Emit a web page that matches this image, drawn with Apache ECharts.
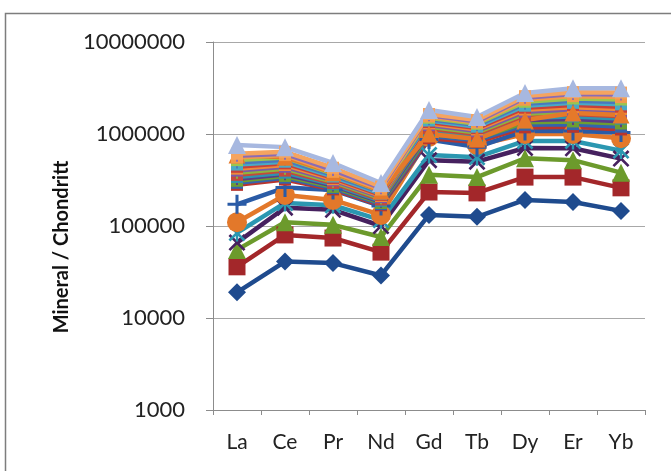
<!DOCTYPE html>
<html>
<head>
<meta charset="utf-8">
<script src="https://cdn.jsdelivr.net/npm/echarts@6/dist/echarts.min.js"></script>
<style>
  html, body { margin: 0; padding: 0; background: #ffffff; }
  #chart { width: 671px; height: 471px; }
</style>
</head>
<body>
<div id="chart"></div>
<script>
// REE elements along the x axis
const elements = ['La', 'Ce', 'Pr', 'Nd', 'Gd', 'Tb', 'Dy', 'Er', 'Yb'];
const yTickValues = [1000, 10000, 100000, 1000000, 10000000];

// Mineral / chondrite ratios, one array per analysis
const s01 = [19000, 41000, 39500, 29000, 132000, 126000, 192000, 182000, 146000];
const s02 = [36000, 80000, 74000, 52000, 234000, 229000, 340000, 340000, 260000];
const s03 = [55000, 110000, 103000, 76000, 360000, 340000, 545000, 520000, 380000];
const s04 = [66000, 158000, 150000, 100000, 520000, 500000, 705000, 700000, 540000];
const s05 = [84000, 178000, 168000, 116000, 590000, 560000, 840000, 840000, 660000];
const s06 = [110000, 217000, 192000, 132000, 930000, 760000, 1000000, 1000000, 900000];
const s07 = [172000, 262000, 246000, 165000, 870000, 720000, 1080000, 1080000, 1040000];
const s08 = [280000, 320000, 250000, 168000, 900000, 820000, 1180000, 1200000, 1120000];
const s09 = [295000, 335000, 258000, 173000, 950000, 855000, 1260000, 1280000, 1200000];
const s10 = [310000, 350000, 266000, 178000, 1000000, 890000, 1340000, 1370000, 1300000];
const s11 = [325000, 365000, 275000, 183000, 1050000, 925000, 1420000, 1460000, 1380000];
const s12 = [340000, 380000, 284000, 188000, 1100000, 960000, 1500000, 1550000, 1470000];
const s13 = [360000, 400000, 293000, 194000, 1150000, 1000000, 1580000, 1650000, 1560000];
const s14 = [380000, 420000, 303000, 200000, 1200000, 1040000, 1660000, 1750000, 1660000];
const s15 = [400000, 440000, 313000, 206000, 1250000, 1080000, 1750000, 1850000, 1760000];
const s16 = [420000, 460000, 323000, 212000, 1300000, 1120000, 1840000, 1950000, 1870000];
const s17 = [440000, 480000, 333000, 218000, 1350000, 1160000, 1930000, 2060000, 1980000];
const s18 = [465000, 500000, 345000, 225000, 1400000, 1200000, 2030000, 2180000, 2100000];
const s19 = [490000, 525000, 358000, 232000, 1450000, 1250000, 2130000, 2300000, 2230000];
const s20 = [520000, 555000, 372000, 240000, 1500000, 1290000, 2240000, 2430000, 2370000];
const s21 = [590000, 560000, 380000, 240000, 1000000, 880000, 1420000, 1690000, 1610000];
const s22 = [555000, 590000, 388000, 249000, 1550000, 1330000, 2360000, 2580000, 2520000];
const s23 = [580000, 610000, 405000, 258000, 1600000, 1370000, 2480000, 2720000, 2680000];
const s24 = [610000, 640000, 430000, 268000, 1650000, 1420000, 2580000, 2850000, 2820000];
const s25 = [760000, 720000, 484000, 293000, 1820000, 1530000, 2790000, 3150000, 3150000];

// Marker shapes
const PLUS = 'path://M4.2,0H5.8V4.2H10V5.8H5.8V10H4.2V5.8H0V4.2H4.2Z';
const CROSS = 'path://M0,1.1L1.1,0L5,3.9L8.9,0L10,1.1L6.1,5L10,8.9L8.9,10L5,6.1L1.1,10L0,8.9L3.9,5Z';
const STAR = 'path://M0,1.1L1.1,0L5,3.9L8.9,0L10,1.1L6.1,5L10,8.9L8.9,10L5,6.1L1.1,10L0,8.9L3.9,5Z M4.3,0H5.7V10H4.3Z';
const DASH = 'path://M0,4H10V6H0Z';

// [data, colour, marker, marker size]
const seriesDefs = [
  [s01, '#1f4b8e', 'diamond', 18],
  [s02, '#a3272a', 'rect', 17],
  [s03, '#6c9a2c', 'triangle', 18],
  [s04, '#46215f', CROSS, 17],
  [s05, '#2b97b1', STAR, 17],
  [s06, '#e3782a', 'circle', 20],
  [s07, '#2a5ba6', PLUS, 19],
  [s08, '#b8352e', DASH, 12],
  [s09, '#3464ad', DASH, 12],
  [s10, '#6e9d32', DASH, 12],
  [s11, '#5b3c86', PLUS, 12],
  [s12, '#2f93ae', DASH, 12],
  [s13, '#c4493c', DASH, 12],
  [s14, '#8db43f', PLUS, 12],
  [s15, '#7a5aa6', DASH, 12],
  [s16, '#ee8a3a', DASH, 12],
  [s17, '#c8403a', DASH, 12],
  [s18, '#4aaac4', DASH, 12],
  [s19, '#4b78be', PLUS, 12],
  [s20, '#9cc54e', DASH, 12],
  [s21, '#e5792a', 'triangle', 17],
  [s22, '#f29a4c', DASH, 12],
  [s23, '#8a6cb5', PLUS, 12],
  [s24, '#f5a460', DASH, 12],
  [s25, '#a7b8e0', 'triangle', 18]
];

const chart = echarts.init(document.getElementById('chart'), null, { renderer: 'canvas' });

const font = 'Lato, "Open Sans", "DejaVu Sans", sans-serif';

chart.setOption({
  animation: false,
  backgroundColor: '#ffffff',
  graphic: [{
    type: 'rect',
    shape: { x: 5.5, y: 13.5, width: 720, height: 520 },
    style: { fill: 'none', stroke: '#7d7d7d', lineWidth: 1.5 },
    silent: true,
    z: -1
  }],
  grid: { left: 213, right: 26, top: 42, bottom: 61, containLabel: false },
  xAxis: {
    type: 'category',
    data: elements,
    boundaryGap: true,
    axisLine: { show: true, lineStyle: { color: '#8c8c8c', width: 1 } },
    axisTick: { show: true, length: 5, inside: false, lineStyle: { color: '#8c8c8c' } },
    axisLabel: { color: '#222', fontFamily: font, fontSize: 21, margin: 22 },
    splitLine: { show: false }
  },
  yAxis: {
    type: 'log',
    logBase: 10,
    min: yTickValues[0],
    max: yTickValues[yTickValues.length - 1],
    name: 'Mineral / Chondritt',
    nameLocation: 'middle',
    nameGap: 141,
    nameTextStyle: {
      color: '#111', fontFamily: font, fontSize: 20, fontWeight: 'bold',
      padding: [0, 42, 0, 0]
    },
    axisLine: { show: true, lineStyle: { color: '#8c8c8c', width: 1 } },
    axisTick: { show: true, length: 7, lineStyle: { color: '#8c8c8c' } },
    axisLabel: {
      color: '#222', fontFamily: font, fontSize: 22, margin: 28,
      formatter: v => String(Math.round(v))
    },
    splitLine: { show: true, lineStyle: { color: '#a8a8a8', width: 1 } },
    minorTick: { show: false }
  },
  series: seriesDefs.map((d, i) => ({
    type: 'line',
    name: 'S' + (i + 1),
    data: d[0],
    color: d[1],
    symbol: d[2],
    symbolSize: d[3],
    showAllSymbol: true,
    lineStyle: { color: d[1], width: 4.5 },
    itemStyle: { color: d[1], borderWidth: 0 },
    emphasis: { disabled: true },
    z: 2
  }))
});
</script>
</body>
</html>
